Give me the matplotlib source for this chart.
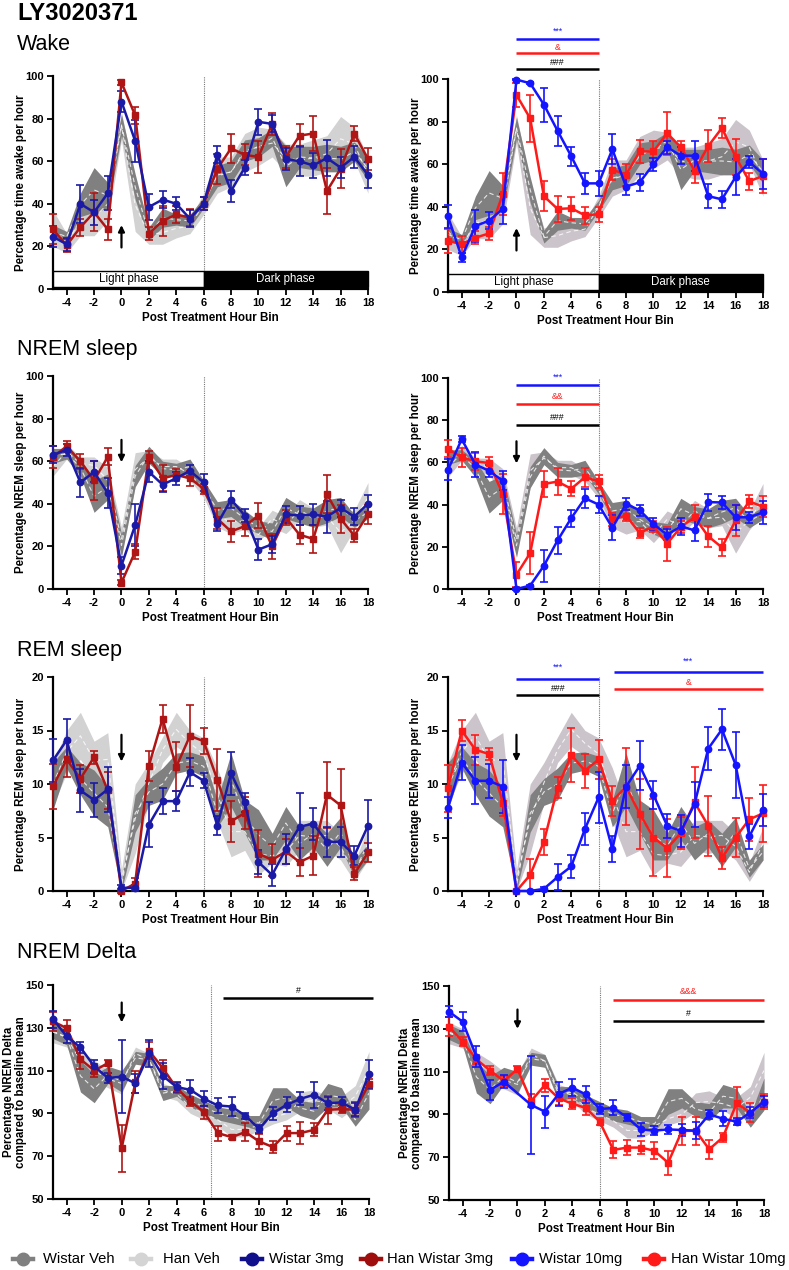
import numpy as np
import matplotlib
matplotlib.use('Agg')
import matplotlib.pyplot as plt
from matplotlib.lines import Line2D
from matplotlib.patches import Rectangle

plt.rcParams['font.family'] = ['Liberation Sans', 'DejaVu Sans']
plt.rcParams['axes.unicode_minus'] = False

# ---------------- data ----------------
hours = np.arange(-5, 19)
xticks = list(range(-4, 19, 2))

# Wake (% time awake per hour)
wake_wv_mean = [27, 24.5, 39.5, 46.5, 44, 77, 48, 26, 33.5, 32.5, 32, 40.5, 53, 55, 65, 66.5, 71, 57.5, 62, 61.5, 61.5, 61, 64.5, 56.5]
wake_wv_sem = [3, 2.5, 5.5, 10.5, 6, 5, 6, 3, 4.5, 2.5, 3, 2.5, 5, 5, 5, 4.5, 4, 9.5, 5, 5.5, 6.5, 6, 4.5, 5.5]
wake_hv_mean = [28.5, 21.5, 32.5, 33.5, 40, 76.5, 39.5, 25.5, 26.5, 28.5, 29.5, 40, 53.5, 55, 64, 67, 68.5, 61.5, 60.5, 61.5, 63.5, 70.5, 68, 53.5]
wake_hv_sem = [8.5, 4.5, 7.5, 8.5, 8, 6.5, 12.5, 4.5, 5.5, 4.5, 3.5, 5, 8.5, 7, 9, 9, 6.5, 6.5, 7.5, 8.5, 8.5, 10.5, 8, 8.5]
wake_w3 = [24.5, 21, 40, 36, 45, 88, 69.5, 38.5, 42, 40, 33, 40, 63, 46, 57, 78.5, 77.5, 61, 60, 58, 61.5, 57, 62, 53.5]
wake_w3_err = [5, 3, 9, 6, 8, 5, 10, 6, 4, 3, 4, 3, 4, 5, 3.5, 6, 4, 5, 7, 6, 8.5, 5, 5, 6]
wake_h3 = [28, 20.5, 29, 36, 28, 97, 81.5, 26, 32, 35, 33.5, 40, 56.5, 66, 63, 62, 77.5, 62, 72, 73, 46, 56.5, 73, 61]
wake_h3_err = [7, 3, 4, 9, 5, 1, 4, 3, 7, 4, 4, 3, 7, 7, 5, 7.5, 5, 5, 5.5, 8, 11, 9, 3.5, 5]
wake_w10 = [35.5, 16.3, 31, 33.5, 39, 99.7, 98, 88, 75.7, 63.7, 51, 51, 67, 49.5, 51.5, 60, 68, 64, 64, 45, 43.5, 54, 61, 55.5]
wake_w10_err = [5.5, 2, 7.5, 4, 7, 0.3, 0.5, 8, 7, 4.5, 5, 6, 7, 4, 4, 3, 3, 4, 7, 5.5, 4, 8.5, 3, 7]
wake_h10 = [24, 22.5, 25.5, 27.5, 46, 92.5, 81.5, 45, 39, 39.3, 36, 36.5, 57.5, 55, 66, 66, 74.5, 68, 57, 68.5, 77, 63.5, 52, 54.5]
wake_h10_err = [5.5, 4, 3, 3, 10, 5.5, 11, 7, 6, 5.5, 4, 3.5, 5, 5, 5.5, 5, 10, 3, 6, 7.5, 4.5, 8.5, 4, 8]

# NREM sleep (% per hour)
nrem_wv_mean = [62.5, 63.5, 57, 43.5, 48, 20.5, 53, 63, 56.5, 56, 57.5, 48, 37, 38, 33, 29, 27, 38, 35, 33.5, 36.5, 38.5, 32, 36]
nrem_wv_sem = [3.5, 2.5, 4, 7.5, 6, 5.5, 5, 4, 3.5, 3, 3.5, 3, 4, 4, 4, 3, 4, 5, 4, 4.5, 5.5, 4.5, 3, 3]
nrem_hv_mean = [57.5, 64.5, 59, 58, 51, 23.5, 56, 62, 57.5, 57.5, 54, 47, 34, 31.5, 32, 25.5, 33, 30, 37, 33.5, 34, 26.5, 32.5, 43]
nrem_hv_sem = [4.5, 3.5, 3, 4, 6, 5.5, 8, 3, 3.5, 3.5, 3, 4, 5, 5.5, 4, 3.5, 4, 4, 5, 4.5, 4, 9.5, 4.5, 7]
nrem_w3 = [63, 65.3, 50, 55, 45, 11, 30, 55, 49, 52, 55.5, 50, 30.5, 42, 34.5, 18.5, 21, 35, 34.5, 35, 34, 38, 34, 40]
nrem_w3_err = [4, 3, 7, 5, 7, 4, 10, 5, 3.5, 3, 2.5, 4, 3.5, 4, 3, 5, 4, 4, 4.5, 5, 7.5, 4, 4, 4]
nrem_h3 = [62, 67, 60, 51, 62, 3, 17.5, 62, 52, 53.5, 52, 47, 33, 27, 29.5, 34.5, 20, 33.5, 25.5, 23.5, 44.5, 33, 25, 35]
nrem_h3_err = [5, 2.5, 3.5, 9, 4, 1, 3.5, 3, 6, 3, 3.5, 2.5, 5, 5, 4.5, 6, 6, 3.5, 4.5, 6.5, 9, 6.5, 3, 4.5]
nrem_w10 = [56.5, 71, 59, 56, 51.3, 0, 1.6, 11, 23, 33.6, 43, 40, 29, 40.3, 37.3, 30.8, 25.7, 29.7, 27.8, 41.2, 41, 34, 34, 36.3]
nrem_w10_err = [5, 1.5, 6, 3, 4.5, 0.3, 0.5, 7.5, 6.5, 4, 4.5, 4, 6, 3, 2.5, 3, 2.5, 4, 5, 4, 3, 6, 2.5, 5.5]
nrem_h10 = [66.4, 62.4, 60.5, 59.7, 45, 6.8, 17, 49.8, 50.9, 47.5, 53, 51, 33, 34.8, 26.5, 29.7, 21.5, 29.4, 34, 25, 19.7, 32.5, 41.5, 39]
nrem_h10_err = [4, 4.5, 4, 3, 9.5, 6, 10, 6, 6.5, 3.5, 4.5, 3, 3, 2.5, 2.5, 2.5, 8, 3, 6, 5, 4, 7.5, 3, 5]

# REM sleep (% per hour)
rem_wv_mean = [9.8, 12.5, 10.5, 9.15, 7.85, 0.5, 7.25, 9.25, 10, 11.95, 12.15, 11.65, 7.25, 10.4, 6.95, 5.25, 4.15, 6.35, 4.45, 5.35, 3.85, 5.5, 2.1, 3.65]
rem_wv_sem = [2.2, 1, 1.5, 2.15, 1.85, 0.5, 1.75, 1.25, 1.5, 0.95, 0.85, 0.95, 1.25, 2.5, 1.55, 2.35, 1.25, 1.55, 1.55, 1.25, 1.55, 1.4, 0.8, 0.75]
rem_hv_mean = [10, 13, 14.5, 12.2, 12.3, 1, 6.75, 10.1, 13.2, 15.1, 13.8, 12.8, 9, 5.55, 5.55, 3.45, 3.3, 3.65, 5.2, 5.05, 5.2, 4.15, 1.75, 4.45]
rem_hv_sem = [2, 2, 2.2, 1.8, 2.5, 1, 3.25, 1.9, 1.2, 1.6, 1.2, 1.5, 2.5, 2.35, 1.75, 1.95, 0.7, 1.35, 1.4, 1.55, 1.4, 1.25, 0.85, 1.55]
rem_w3 = [12.2, 14.1, 9.4, 8.5, 9.5, 0.3, 0.3, 6.2, 8.4, 8.4, 11.1, 10.3, 6.1, 11, 8.3, 2.7, 1.5, 3.9, 6, 6.3, 4.6, 4.6, 3.3, 6.1]
rem_w3_err = [2, 2, 2, 1.6, 2.1, 0.3, 0.3, 2.1, 1.2, 0.9, 1.3, 0.7, 0.9, 2, 0.9, 1.1, 1, 1.4, 3.2, 1.5, 1.4, 1.4, 0.9, 2.4]
rem_h3 = [9.8, 12.3, 10.5, 12.5, 9.4, 0, 0.7, 11.7, 16.1, 11.6, 14.5, 14, 10.4, 6.5, 7.3, 3.5, 2.9, 3.7, 2.7, 3.3, 9, 8, 1.6, 3.6]
rem_h3_err = [2.1, 1.6, 1.3, 0.6, 1.7, 0.2, 0.5, 1.4, 1.3, 2.3, 2.9, 1.2, 2.9, 1.9, 1.5, 2.2, 1.5, 1.2, 1.3, 1.8, 3.1, 3.4, 0.6, 0.9]
rem_w10 = [7.8, 12, 10.3, 10.3, 9.75, 0, 0, 0.2, 1.3, 2.3, 5.8, 8.75, 3.9, 9.75, 11.7, 9, 6.1, 5.6, 8.1, 13.3, 15.1, 11.8, 5.1, 7.6]
rem_w10_err = [1, 1.6, 2.2, 1.6, 2.5, 0, 0, 0.2, 1.2, 1.1, 1.5, 2.4, 1.2, 2, 2.3, 1.3, 1.1, 1.5, 2.1, 2, 1.9, 3.1, 1.2, 1.5]
rem_h10 = [9.6, 15, 13.2, 12.8, 8.25, 0, 1.5, 4.6, 9.65, 12.7, 11.25, 12.3, 8.4, 9.75, 7.2, 5, 4, 5.4, 8.3, 6.1, 3.1, 5, 6.7, 7.25]
rem_h10_err = [2.2, 1, 1.4, 0.6, 1.2, 0, 1.5, 1.2, 1, 2.5, 1.6, 1.8, 1.4, 3.6, 3.3, 3.6, 2.7, 1.5, 3.3, 2.8, 1, 1.8, 2, 2.7]

# NREM Delta (% of baseline mean)
delta_wv_mean = [128.5, 125.5, 107.5, 101.5, 108, 105, 116, 115, 99.5, 100.5, 96, 93, 90, 88.75, 86.5, 85.5, 96, 97.5, 92.5, 91, 98.5, 97.5, 87, 99.5]
delta_wv_sem = [3.5, 3.5, 7.5, 6.5, 4, 5, 3, 3, 3.5, 2.5, 3, 3, 3, 3.25, 2.5, 3.5, 6, 4.5, 3.5, 4, 5.5, 4.5, 3, 7.5]
delta_hv_mean = [128, 125.5, 114.5, 110, 106, 104, 118, 115, 101, 99, 93, 90, 87, 82.5, 82.5, 84.5, 88, 90, 95.5, 96, 95, 93, 98, 110.5]
delta_hv_sem = [5, 4.5, 4.5, 5, 4, 5, 3, 3, 3, 3, 3, 3, 3, 3.5, 3.5, 2.5, 3, 3, 4.5, 5, 3, 5, 5, 8.5]
delta_w3 = [134, 126, 120.8, 112, 106.5, 107.2, 104, 118, 107.5, 102.3, 101, 96.8, 93.7, 93.2, 88.9, 82.8, 90.1, 94, 96.8, 98.7, 94.8, 95.1, 91.7, 108.5]
delta_w3_err = [4, 3, 2.5, 3, 2.5, 17, 4.5, 6.5, 6, 2.5, 4.5, 3.5, 3.5, 4.5, 1.5, 2, 3, 3.5, 3, 6, 3, 2.5, 3, 6.5]
delta_h3 = [133, 129.8, 115.3, 110, 113.5, 73.8, 104.6, 119.2, 111.1, 101.8, 95.6, 90.6, 80.8, 78.9, 81.3, 76.9, 74.3, 80.8, 80.8, 82.3, 91.7, 92, 91.7, 103.8]
delta_h3_err = [4.5, 4, 4.5, 3, 1.5, 11, 5, 4, 4, 2.5, 2, 3, 3.5, 1, 4, 3.5, 3, 3.5, 5, 3, 6.5, 2, 3.5, 2.5]
delta_w10 = [138, 133.3, 117, 101.4, 105.3, np.nan, 94.4, 91.3, 99.5, 102.5, 99.3, 92.5, 93, 88.6, 83, 82.4, 83, 82.7, 82.4, 90, 88, 86.6, 90.8, 96]
delta_w10_err = [2.5, 4.5, 5, 4.5, 3, np.nan, 23, 7.5, 5.5, 4, 4, 2.5, 3.5, 1.5, 3, 2, 2, 3, 4, 2, 3.5, 1.5, 2.5, 2.5]
delta_h10 = [131, 124, 115.7, 110.5, 105.6, 111.2, 96.3, 103.7, 97.5, 95, 93, 86.6, 73.4, 74.5, 74.5, 73, 67.4, 82.2, 82.4, 73.7, 79.3, 95.2, 90.8, 96]
delta_h10_err = [4.5, 2, 2, 2, 2.5, 1.5, 3, 3, 3, 2.5, 3.5, 1.5, 4, 3.5, 3, 4, 5.5, 6.5, 6.5, 4.5, 2, 7.5, 4.5, 3.5]

legend_labels = ['Wistar Veh', 'Han Veh', 'Wistar 3mg', 'Han Wistar 3mg', 'Wistar 10mg', 'Han Wistar 10mg']

# ---------------- style ----------------
C_WV = '#808080'
C_HV_L = '#d2d2d2'
C_HV_R = '#cbc4ca'
C_W3 = '#1a1aa6'
C_H3 = '#b01515'
C_W10 = '#1414ff'
C_H10 = '#ff1a1a'

W, H = 789, 1270
fig = plt.figure(figsize=(W / 100, H / 100), dpi=100)


def add_ax(l, t, r, b):
    return fig.add_axes([l / W, 1 - b / H, (r - l) / W, (b - t) / H])


def style_axis(ax, ylim, yticks, ylabel, ylabel_off=32):
    ax.set_xlim(-5, 18)
    ax.set_ylim(*ylim)
    ax.set_yticks(yticks)
    ax.set_xticks(xticks)
    for s in ['top', 'right']:
        ax.spines[s].set_visible(False)
    for s in ['left', 'bottom']:
        ax.spines[s].set_linewidth(1.6)
    ax.tick_params(direction='out', length=4, width=1.3, labelsize=8, pad=2.5)
    for lab in ax.get_xticklabels() + ax.get_yticklabels():
        lab.set_fontweight('bold')
    ax.set_ylabel(ylabel, fontsize=8.3, fontweight='bold', linespacing=1.05)
    ax.yaxis.label.set_va('center')
    ax.yaxis.set_label_coords(-ylabel_off / 315, 0.5)
    ax.set_xlabel('Post Treatment Hour Bin', fontsize=8.4, fontweight='bold')
    ax.xaxis.label.set_va('center')
    ax.xaxis.set_label_coords(0.5, -29 / 213)


def bands(ax, wm, ws, hm, hs, light):
    wm, ws, hm, hs = map(np.asarray, (wm, ws, hm, hs))
    ax.fill_between(hours, hm - hs, hm + hs, color=light, lw=0, zorder=1)
    ax.fill_between(hours, wm - ws, wm + ws, color=C_WV, lw=0, zorder=2)
    ax.plot(hours, hm, color='white', ls=(0, (4, 3)), lw=0.8, alpha=0.8, zorder=3)
    ax.plot(hours, wm, color='white', ls=(0, (4, 3)), lw=0.8, alpha=0.8, zorder=3)


def series(ax, y, e, color, marker):
    y = np.asarray(y, float)
    e = np.asarray(e, float)
    m = ~np.isnan(y)
    cont = ax.errorbar(hours[m], y[m], yerr=e[m], color=color, marker=marker,
                       ms=4.6, lw=1.8, elinewidth=1.2, capsize=2.6, capthick=1.2, zorder=6)
    for art in cont.get_children():
        art.set_clip_on(False)


def arrow(ax, tail, tip):
    ax.annotate('', xy=(0, tip), xytext=(0, tail),
                arrowprops=dict(arrowstyle='-|>', color='black', lw=1.6, mutation_scale=9,
                                shrinkA=0, shrinkB=0), zorder=7)


def sig(ax, x0, x1, y, ty, txt, color):
    ax.plot([x0, x1], [y, y], color=color, lw=1.8, clip_on=False, solid_capstyle='butt', zorder=7)
    ax.text((x0 + x1) / 2, ty, txt, color=color, ha='center', va='center', fontsize=6.3,
            clip_on=False, zorder=7)


def phase_bar(ax):
    ax.add_patch(Rectangle((-5, 0.8), 11, 7.5, facecolor='white', edgecolor='black', lw=1,
                           zorder=4, clip_on=False))
    ax.add_patch(Rectangle((6, 0.8), 12, 7.5, facecolor='black', edgecolor='black', lw=1,
                           zorder=4, clip_on=False))
    ax.text(0.5, 4.6, 'Light phase', ha='center', va='center', fontsize=8.3, zorder=5)
    ax.text(12, 4.6, 'Dark phase', ha='center', va='center', fontsize=8.3, color='white', zorder=5)


def vline(ax, xv):
    ax.axvline(xv, color='#777777', lw=0.8, ls=(0, (1, 1)), zorder=0)


# ---------------- Wake ----------------
a1 = add_ax(53, 76, 368, 289)
a2 = add_ax(448, 79, 763, 292)
for ax, light, (wy, we, hy, he) in [
        (a1, C_HV_L, (wake_w3, wake_w3_err, wake_h3, wake_h3_err)),
        (a2, C_HV_R, (wake_w10, wake_w10_err, wake_h10, wake_h10_err))]:
    vline(ax, 6)
    bands(ax, wake_wv_mean, wake_wv_sem, wake_hv_mean, wake_hv_sem, light)
    phase_bar(ax)
    c_w, c_h = (C_W3, C_H3) if ax is a1 else (C_W10, C_H10)
    series(ax, hy, he, c_h, 's')
    series(ax, wy, we, c_w, 'o')
    style_axis(ax, (0, 100), [0, 20, 40, 60, 80, 100], 'Percentage time awake per hour')
    arrow(ax, 19.5, 30)
sig(a2, 0, 6, 104.7, 107.6, '###', 'black')
sig(a2, 0, 6, 112.2, 115, '&', C_H10)
sig(a2, 0, 6, 118.8, 122.3, '***', C_W10)

# ---------------- NREM ----------------
b1 = add_ax(53, 376, 368, 589)
b2 = add_ax(448, 378, 763, 589)
for ax, light, (wy, we, hy, he) in [
        (b1, C_HV_L, (nrem_w3, nrem_w3_err, nrem_h3, nrem_h3_err)),
        (b2, C_HV_R, (nrem_w10, nrem_w10_err, nrem_h10, nrem_h10_err))]:
    vline(ax, 6)
    bands(ax, nrem_wv_mean, nrem_wv_sem, nrem_hv_mean, nrem_hv_sem, light)
    c_w, c_h = (C_W3, C_H3) if ax is b1 else (C_W10, C_H10)
    series(ax, hy, he, c_h, 's')
    series(ax, wy, we, c_w, 'o')
    style_axis(ax, (0, 100), [0, 20, 40, 60, 80, 100], 'Percentage NREM sleep per hour')
    arrow(ax, 70, 59.5)
sig(b2, 0, 6, 77.7, 81.5, '###', 'black')
sig(b2, 0, 6, 87.7, 91.3, '&&', C_H10)
sig(b2, 0, 6, 96.7, 100.5, '***', C_W10)

# ---------------- REM ----------------
c1 = add_ax(53, 677, 368, 891)
c2 = add_ax(448, 677, 763, 891)
for ax, light, (wy, we, hy, he) in [
        (c1, C_HV_L, (rem_w3, rem_w3_err, rem_h3, rem_h3_err)),
        (c2, C_HV_R, (rem_w10, rem_w10_err, rem_h10, rem_h10_err))]:
    vline(ax, 6)
    bands(ax, rem_wv_mean, rem_wv_sem, rem_hv_mean, rem_hv_sem, light)
    c_w, c_h = (C_W3, C_H3) if ax is c1 else (C_W10, C_H10)
    series(ax, hy, he, c_h, 's')
    series(ax, wy, we, c_w, 'o')
    style_axis(ax, (0, 20), [0, 5, 10, 15, 20], 'Percentage REM sleep per hour')
    arrow(ax, 14.6, 12.1)
sig(c2, 0, 6.05, 18.3, 18.95, '###', 'black')
sig(c2, 0, 6.05, 19.8, 20.95, '***', C_W10)
sig(c2, 7.1, 18, 18.9, 19.45, '&', C_H10)
sig(c2, 7.1, 18, 20.5, 21.5, '***', C_W10)

# ---------------- NREM Delta ----------------
d1 = add_ax(53, 985, 369, 1199)
d2 = add_ax(449, 986, 764, 1200)
for ax, light, (wy, we, hy, he) in [
        (d1, C_HV_L, (delta_w3, delta_w3_err, delta_h3, delta_h3_err)),
        (d2, C_HV_R, (delta_w10, delta_w10_err, delta_h10, delta_h10_err))]:
    vline(ax, 6.5 if ax is d1 else 6)
    bands(ax, delta_wv_mean, delta_wv_sem, delta_hv_mean, delta_hv_sem, light)
    c_w, c_h = (C_W3, C_H3) if ax is d1 else (C_W10, C_H10)
    series(ax, hy, he, c_h, 's')
    series(ax, wy, we, c_w, 'o')
    style_axis(ax, (50, 150), [50, 70, 90, 110, 130, 150],
               'Percentage NREM Delta\ncompared to baseline mean', ylabel_off=38)
arrow(d1, 141.8, 132.5)
arrow(d2, 139, 130)
sig(d1, 7.4, 18.3, 143.9, 147.6, '#', 'black')
sig(d2, 7, 18, 143.5, 147.2, '&&&', C_H10)
sig(d2, 7, 18, 133.6, 137.2, '#', 'black')

# ---------------- titles ----------------
fig.text(17 / W, 1 - 20 / H, 'LY3020371', fontsize=17, fontweight='bold', va='baseline')
for txt, base in [('Wake', 50), ('NREM sleep', 355), ('REM sleep', 656), ('NREM Delta', 958)]:
    fig.text(17 / W, 1 - base / H, txt, fontsize=15.5, va='baseline')

# ---------------- legend ----------------
leg_cols = [C_WV, '#d4d4d4', '#10108c', '#a00d0d', C_W10, C_H10]
mark_x = [23, 141, 252, 371, 522, 654]
text_x = [43, 163, 269, 387, 539, 671]
yl = 1 - 1259 / H
for xm, xt, lab, col in zip(mark_x, text_x, legend_labels, leg_cols):
    fig.add_artist(Line2D([(xm - 10) / W, (xm + 10) / W], [yl, yl], color=col, lw=3.2,
                          transform=fig.transFigure))
    fig.add_artist(Line2D([xm / W], [yl], marker='o', ms=9, color=col, lw=0,
                          transform=fig.transFigure))
    fig.text(xt / W, yl, lab, fontsize=10.6, va='center', ha='left')

fig.savefig('out.png', dpi=100)
